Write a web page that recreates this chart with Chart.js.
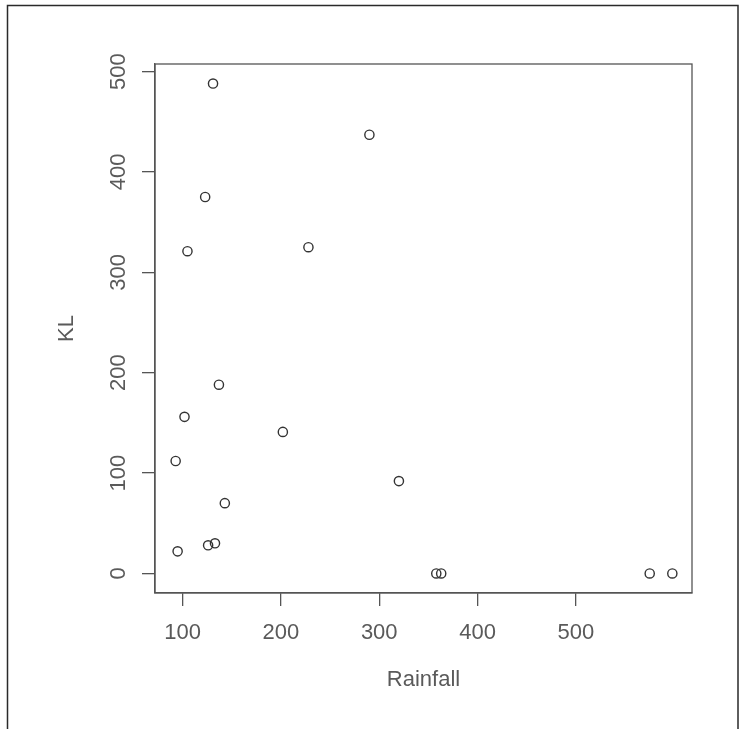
<!DOCTYPE html>
<html><head><meta charset="utf-8">
<script src="https://cdn.jsdelivr.net/npm/chart.js@4.4.0/dist/chart.umd.min.js"></script>
<style>html,body{margin:0;padding:0;background:#fff;overflow:hidden}canvas{display:block}</style>
</head><body>
<canvas id="c" width="741" height="729"></canvas>
<script>
// Data
const rainfall = [131, 123, 105, 228, 290, 137, 102, 93, 202, 143, 95, 126, 133, 320, 358, 363, 575, 598];
const kl       = [488, 375, 321, 325, 437, 188, 156, 112, 141, 70, 22, 28, 30, 92, 0, 0, 0, 0];
const xTicks = [100, 200, 300, 400, 500];
const yTicks = [0, 100, 200, 300, 400, 500];
const xTitle = 'Rainfall';
const yTitle = 'KL';

const FONT = '"Liberation Sans", Arial, sans-serif';
const TXT = '#5a5a5a';
const AX = '#555555';

const rPlot = {
  id: 'rPlot',
  beforeDraw(chart) {
    const ctx = chart.ctx;
    ctx.save();
    ctx.strokeStyle = '#2a2a2a';
    ctx.lineWidth = 1.5;
    ctx.beginPath();
    ctx.moveTo(7.5, 729); ctx.lineTo(7.5, 5.5); ctx.lineTo(738, 5.5); ctx.lineTo(738, 729);
    ctx.stroke();
    ctx.restore();
  },
  afterDraw(chart) {
    const {ctx, chartArea: a, scales: {y}} = chart;
    ctx.save();
    ctx.strokeStyle = AX;
    ctx.lineWidth = 1.3;
    ctx.strokeRect(a.left, a.top, a.right - a.left, a.bottom - a.top);
    ctx.fillStyle = TXT;
    ctx.font = '22px ' + FONT;
    ctx.textAlign = 'center';
    ctx.textBaseline = 'alphabetic';
    yTicks.forEach(v => {
      const py = y.getPixelForValue(v);
      ctx.save();
      ctx.translate(124.5, py);
      ctx.rotate(-Math.PI / 2);
      ctx.fillText(String(v), 0, 0);
      ctx.restore();
    });
    ctx.restore();
  }
};

new Chart(document.getElementById('c'), {
  type: 'scatter',
  data: {
    datasets: [{
      data: rainfall.map((r, i) => ({x: r, y: kl[i]})),
      pointRadius: 4.6,
      pointHoverRadius: 4.6,
      pointBorderWidth: 1.4,
      pointBorderColor: '#333333',
      pointBackgroundColor: 'rgba(0,0,0,0)',
      showLine: false
    }]
  },
  options: {
    responsive: false,
    animation: false,
    events: [],
    layout: {padding: {left: 0, top: 64, right: 49, bottom: 0}},
    plugins: {legend: {display: false}, tooltip: {enabled: false}},
    scales: {
      x: {
        type: 'linear', min: 72, max: 618,
        afterBuildTicks: s => { s.ticks = xTicks.map(v => ({value: v})); },
        afterFit: s => { s.height = 136; },
        grid: {drawOnChartArea: false, drawTicks: true, tickLength: 13, color: AX, lineWidth: 1.3},
        border: {display: true, color: AX, width: 1.3},
        ticks: {color: TXT, font: {size: 22, family: FONT}, padding: 14, maxRotation: 0, autoSkip: false, callback: v => String(v)},
        title: {display: true, text: xTitle, color: TXT, font: {size: 22, family: FONT}, padding: {top: 0, bottom: 36}}
      },
      y: {
        type: 'linear', min: -19.5, max: 507.5,
        afterBuildTicks: s => { s.ticks = yTicks.map(v => ({value: v})); },
        afterFit: s => { s.width = 155; },
        grid: {drawOnChartArea: false, drawTicks: true, tickLength: 13, color: AX, lineWidth: 1.3},
        border: {display: true, color: AX, width: 1.3},
        ticks: {display: false},
        title: {display: true, text: yTitle, color: TXT, font: {size: 22, family: FONT}, padding: {top: 54, bottom: 0}}
      }
    }
  },
  plugins: [rPlot]
});
</script>
</body></html>
